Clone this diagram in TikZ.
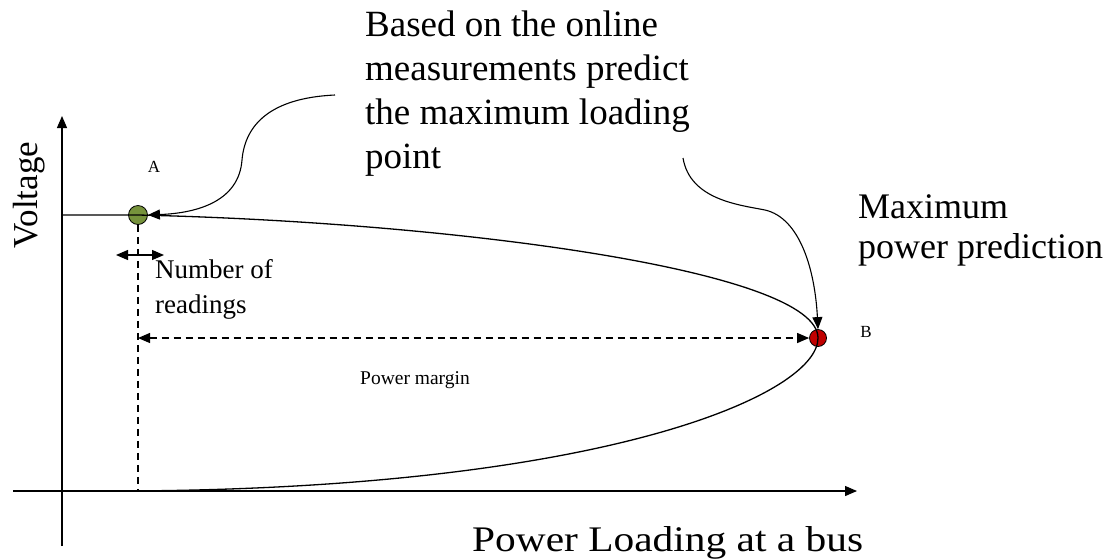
\documentclass[tikz,border=0pt]{standalone}
\usepackage{fontspec}
\setmainfont{Liberation Serif}
\newfontfamily\widefont[FakeStretch=1.15]{Liberation Serif}
\usetikzlibrary{arrows.meta, calc, positioning}
\definecolor{dotgreen}{RGB}{118,146,60}
\definecolor{dotred}{RGB}{192,0,0}
\tikzstyle{axis} = [line width=1.3pt, -{Triangle[length=12pt,width=10pt]}]
\tikzstyle{curve} = [line width=1.3pt]
\tikzstyle{arrow} = [line width=1.1pt, -{Triangle[length=12pt,width=10pt]}]
\tikzstyle{twoway} = [line width=1.2pt, {Triangle[length=12pt,width=10pt]}-{Triangle[length=12pt,width=10pt]}]
\tikzstyle{dashline} = [line width=1.2pt, dash pattern=on 7pt off 5pt]
\tikzstyle{dot} = [circle, draw=black, line width=0.8pt, minimum size=19pt, inner sep=0pt]
\tikzstyle{note} = [inner sep=0pt, align=left]

\begin{document}
\begin{tikzpicture}[x=1pt, y=-1pt]
  \useasboundingbox (0,0) rectangle (1115,558);

  % axes
  \coordinate (origin) at (62,491);
  \coordinate (xstart) at (13,491);
  \coordinate (xend) at (857,491);
  \coordinate (ystart) at (62,546);
  \coordinate (yend) at (62,116);
  \draw [axis] (xstart) -- (xend);
  \draw [axis] (ystart) -- (yend);

  \node (ptA) [dot, fill=dotgreen] at (138,215) {};
  \node (ptB) [dot, fill=dotred, minimum size=17pt] at (818,338) {};

  % PV curve, drawn over the two points
  \coordinate (nose) at (110,491);
  \draw [curve] (origin |- ptA) -- (ptA.center) .. controls (450,222) and (818,270) .. (ptB.center)
    .. controls (818,395) and (600,491) .. (nose);

  \draw [dashline] (ptA.south) -- (ptA |- origin);
  \draw [twoway, dashline] (ptA |- ptB) -- (ptB.west);

  \coordinate (readL) at ($(ptA.center)+(-22,40)$);
  \coordinate (readR) at ($(ptA.center)+(26,40)$);
  \draw [twoway] (readL) -- (readR);

  % texts
  \node (labA) [note, font=\fontsize{17}{20}\selectfont] at (154,167) {A};
  \node (labB) [note, font=\fontsize{17}{20}\selectfont] at (866,332) {B};
  \node (vlabel) [note, rotate=90, font=\fontsize{35}{40}\selectfont] at (29,195) {Voltage};
  \node (plabel) [note, anchor=base west, font=\widefont\fontsize{36}{40}\selectfont] at (472,551) {Power Loading at a bus};
  \node (readings) [note, anchor=north west, font=\fontsize{27}{35}\selectfont] at (155,259) {Number of\\readings};
  \node (margin) [note, font=\fontsize{19.5}{22}\selectfont] at (415,380) {Power margin};
  \node (predict) [note, anchor=north west, font=\fontsize{37}{44}\selectfont] at (365,11) {Based on the online\\measurements predict\\the maximum loading\\point};
  \node (maxpow) [note, anchor=north west, font=\fontsize{36}{40}\selectfont] at (858,194) {Maximum\\power prediction};

  % pointers from the texts
  \coordinate (fromtop) at (335,95);
  \draw [arrow] (fromtop) .. controls (270,98) and (245,125) .. (242,160)
    .. controls (239,200) and (200,213) .. (ptA.east);
  \coordinate (fromright) at (683,158);
  \draw [arrow] (fromright) .. controls (690,200) and (740,205) .. (765,210)
    .. controls (800,218) and (815,270) .. (ptB.north);
\end{tikzpicture}
\end{document}
